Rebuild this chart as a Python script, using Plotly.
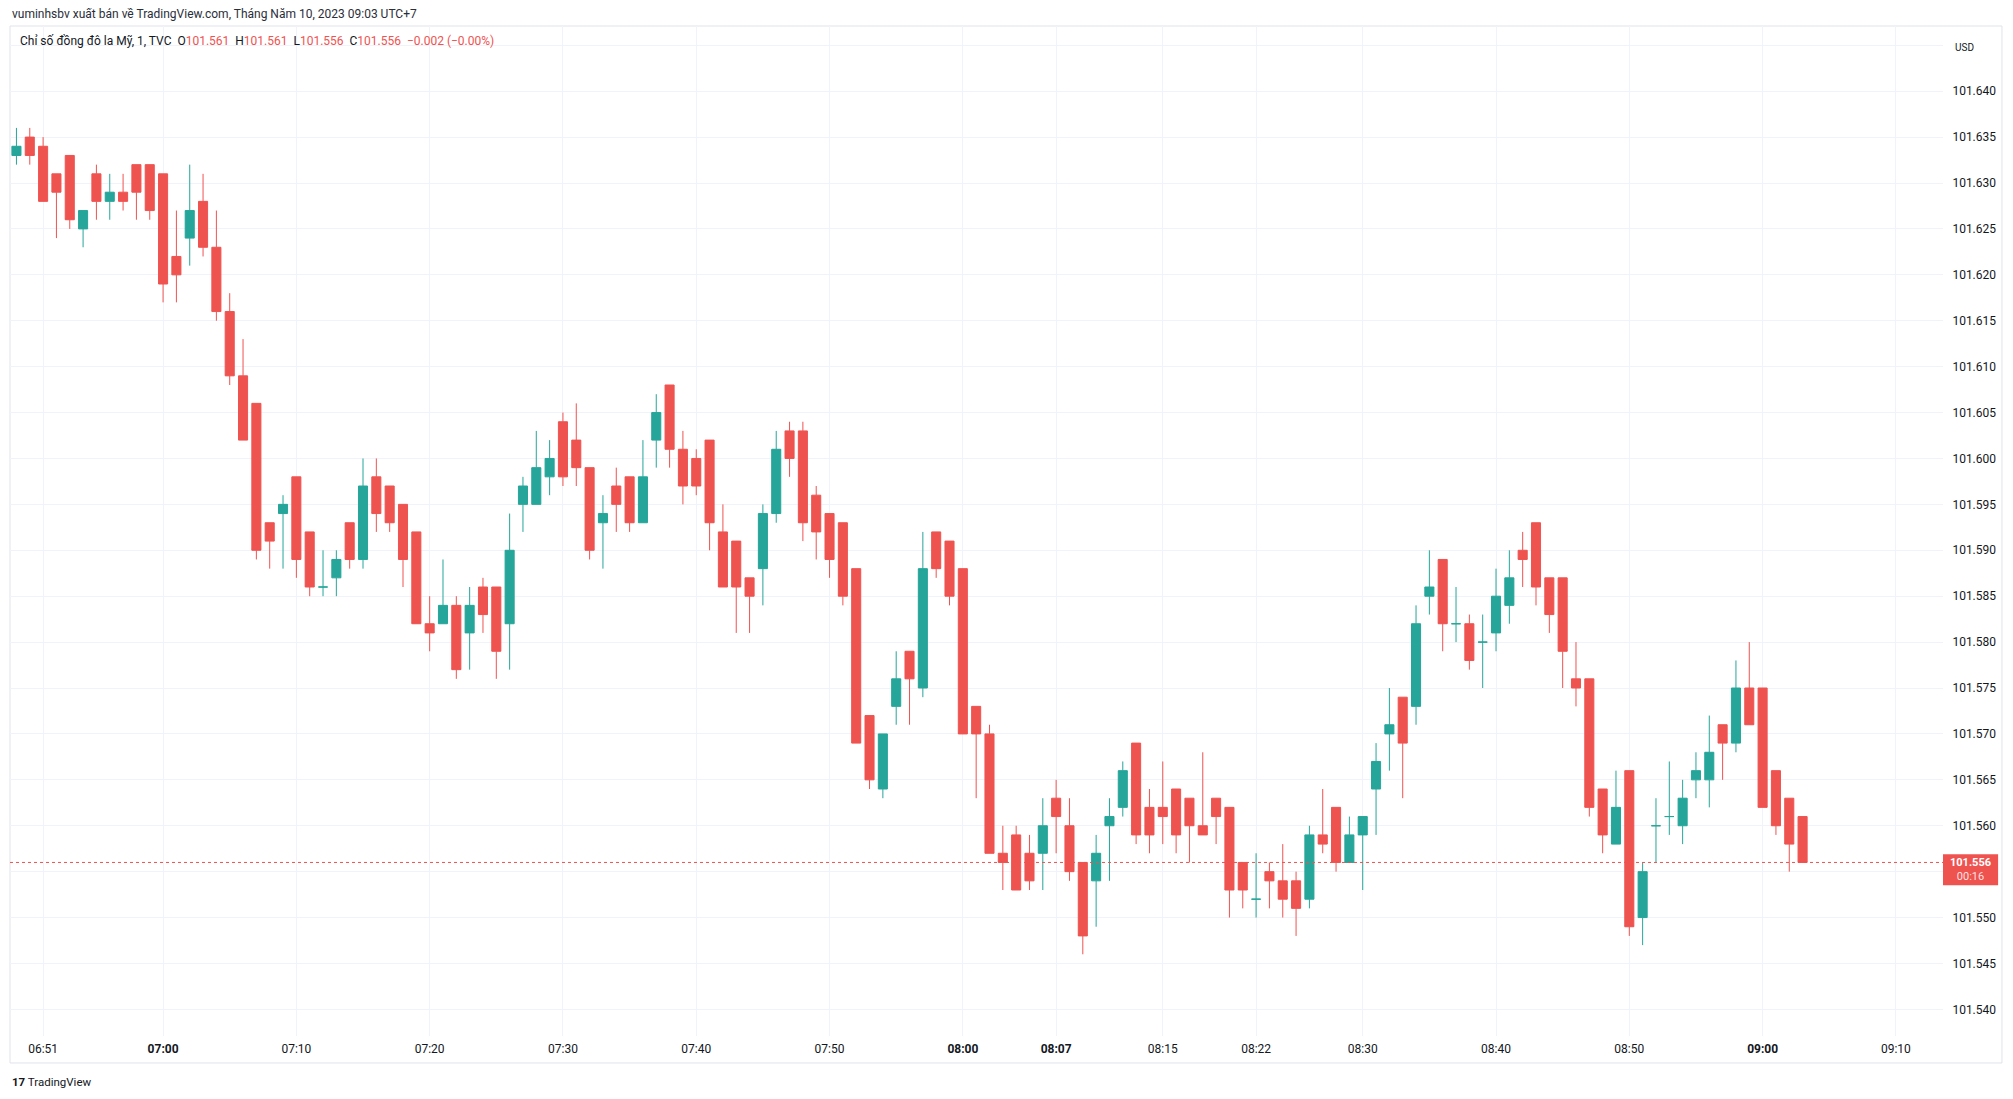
import pandas as pd
import plotly.graph_objects as go

# 1-minute bars, DXY (TVC), 10 May 2023, 06:49 -> 09:03 (UTC+7)
times = pd.date_range("2023-05-10 06:49", "2023-05-10 09:03", freq="1min")

opens = [
    101.633, 101.635, 101.634, 101.631, 101.633, 101.625, 101.631, 101.628, 101.629, 101.632,
    101.632, 101.631, 101.622, 101.624, 101.628, 101.623, 101.616, 101.609, 101.606, 101.593,
    101.594, 101.598, 101.592, 101.586, 101.587, 101.593, 101.589, 101.598, 101.597, 101.595,
    101.592, 101.582, 101.582, 101.584, 101.581, 101.586, 101.586, 101.582, 101.595, 101.595,
    101.598, 101.604, 101.602, 101.599, 101.593, 101.597, 101.598, 101.593, 101.602, 101.608,
    101.601, 101.600, 101.602, 101.592, 101.591, 101.587, 101.588, 101.594, 101.603, 101.603,
    101.596, 101.594, 101.593, 101.588, 101.572, 101.564, 101.573, 101.579, 101.575, 101.592,
    101.591, 101.588, 101.573, 101.570, 101.557, 101.559, 101.557, 101.557, 101.563, 101.560,
    101.556, 101.554, 101.560, 101.562, 101.569, 101.562, 101.562, 101.564, 101.563, 101.560,
    101.563, 101.562, 101.556, 101.552, 101.555, 101.554, 101.554, 101.552, 101.559, 101.562,
    101.556, 101.559, 101.564, 101.570, 101.574, 101.573, 101.585, 101.589, 101.582, 101.582,
    101.580, 101.581, 101.584, 101.590, 101.593, 101.587, 101.587, 101.576, 101.576, 101.564,
    101.558, 101.566, 101.550, 101.560, 101.561, 101.560, 101.565, 101.565, 101.571, 101.569,
    101.575, 101.575, 101.566, 101.563, 101.561,
]
highs = [
    101.636, 101.636, 101.635, 101.631, 101.633, 101.627, 101.632, 101.631, 101.631, 101.632,
    101.632, 101.631, 101.627, 101.632, 101.631, 101.627, 101.618, 101.613, 101.606, 101.593,
    101.596, 101.598, 101.592, 101.590, 101.590, 101.593, 101.600, 101.600, 101.597, 101.595,
    101.592, 101.585, 101.589, 101.585, 101.586, 101.587, 101.586, 101.594, 101.598, 101.603,
    101.602, 101.605, 101.606, 101.599, 101.596, 101.599, 101.598, 101.602, 101.607, 101.608,
    101.603, 101.601, 101.602, 101.595, 101.591, 101.587, 101.595, 101.603, 101.604, 101.604,
    101.597, 101.594, 101.593, 101.588, 101.572, 101.570, 101.579, 101.579, 101.592, 101.592,
    101.591, 101.588, 101.573, 101.571, 101.560, 101.560, 101.559, 101.563, 101.565, 101.563,
    101.556, 101.559, 101.563, 101.567, 101.569, 101.564, 101.567, 101.564, 101.563, 101.568,
    101.563, 101.562, 101.556, 101.557, 101.556, 101.558, 101.555, 101.560, 101.564, 101.562,
    101.561, 101.561, 101.569, 101.575, 101.574, 101.584, 101.590, 101.589, 101.586, 101.583,
    101.583, 101.588, 101.590, 101.592, 101.593, 101.587, 101.587, 101.580, 101.576, 101.564,
    101.566, 101.566, 101.556, 101.563, 101.567, 101.565, 101.568, 101.572, 101.571, 101.578,
    101.580, 101.575, 101.566, 101.563, 101.561,
]
lows = [
    101.632, 101.632, 101.628, 101.624, 101.625, 101.623, 101.626, 101.626, 101.627, 101.626,
    101.626, 101.617, 101.617, 101.621, 101.622, 101.615, 101.608, 101.602, 101.589, 101.588,
    101.588, 101.587, 101.585, 101.585, 101.585, 101.588, 101.588, 101.592, 101.592, 101.586,
    101.582, 101.579, 101.582, 101.576, 101.577, 101.581, 101.576, 101.577, 101.592, 101.595,
    101.596, 101.597, 101.597, 101.589, 101.588, 101.592, 101.592, 101.593, 101.599, 101.599,
    101.595, 101.596, 101.590, 101.586, 101.581, 101.581, 101.584, 101.593, 101.598, 101.591,
    101.589, 101.587, 101.584, 101.569, 101.564, 101.563, 101.571, 101.571, 101.574, 101.587,
    101.584, 101.570, 101.563, 101.557, 101.553, 101.553, 101.553, 101.553, 101.557, 101.554,
    101.546, 101.549, 101.554, 101.561, 101.558, 101.557, 101.558, 101.557, 101.556, 101.559,
    101.558, 101.550, 101.551, 101.550, 101.551, 101.550, 101.548, 101.551, 101.557, 101.555,
    101.556, 101.553, 101.559, 101.566, 101.563, 101.571, 101.583, 101.579, 101.580, 101.577,
    101.575, 101.579, 101.582, 101.586, 101.584, 101.581, 101.575, 101.573, 101.561, 101.557,
    101.558, 101.548, 101.547, 101.556, 101.559, 101.558, 101.563, 101.562, 101.565, 101.568,
    101.571, 101.562, 101.559, 101.555, 101.556,
]
closes = [
    101.634, 101.633, 101.628, 101.629, 101.626, 101.627, 101.628, 101.629, 101.628, 101.629,
    101.627, 101.619, 101.620, 101.627, 101.623, 101.616, 101.609, 101.602, 101.590, 101.591,
    101.595, 101.589, 101.586, 101.586, 101.589, 101.589, 101.597, 101.594, 101.593, 101.589,
    101.582, 101.581, 101.584, 101.577, 101.584, 101.583, 101.579, 101.590, 101.597, 101.599,
    101.600, 101.598, 101.599, 101.590, 101.594, 101.595, 101.593, 101.598, 101.605, 101.601,
    101.597, 101.597, 101.593, 101.586, 101.586, 101.585, 101.594, 101.601, 101.600, 101.593,
    101.592, 101.589, 101.585, 101.569, 101.565, 101.570, 101.576, 101.576, 101.588, 101.588,
    101.585, 101.570, 101.570, 101.557, 101.556, 101.553, 101.554, 101.560, 101.561, 101.555,
    101.548, 101.557, 101.561, 101.566, 101.559, 101.559, 101.561, 101.559, 101.560, 101.559,
    101.561, 101.553, 101.553, 101.552, 101.554, 101.552, 101.551, 101.559, 101.558, 101.556,
    101.559, 101.561, 101.567, 101.571, 101.569, 101.582, 101.586, 101.582, 101.582, 101.578,
    101.580, 101.585, 101.587, 101.589, 101.586, 101.583, 101.579, 101.575, 101.562, 101.559,
    101.562, 101.549, 101.555, 101.560, 101.561, 101.563, 101.566, 101.568, 101.569, 101.575,
    101.571, 101.562, 101.560, 101.558, 101.556,
]

tick_times = ["06:51", "07:00", "07:10", "07:20", "07:30", "07:40", "07:50", "08:00",
              "08:07", "08:15", "08:22", "08:30", "08:40", "08:50", "09:00", "09:10"]
bold_ticks = {"07:00", "08:00", "08:07", "09:00"}
price_ticks = [101.540, 101.545, 101.550, 101.555, 101.560, 101.565, 101.570, 101.575,
               101.580, 101.585, 101.590, 101.595, 101.600, 101.605, 101.610, 101.615,
               101.620, 101.625, 101.630, 101.635, 101.640, 101.645]
hidden_price_ticks = {101.555, 101.645}  # covered by the price badge / above the scale

UP = "#26a69a"
DOWN = "#ef5350"
TEXT = "#131722"
GRID = "#f0f3fa"
FONT = "Roboto, sans-serif"

df = pd.DataFrame({"t": times, "o": opens, "h": highs, "l": lows, "c": closes})
rising = df[df.c >= df.o]
falling = df[df.c < df.o]

fig = go.Figure()
for part, color in ((rising, UP), (falling, DOWN)):
    fig.add_trace(
        go.Candlestick(
            x=part.t, open=part.o, high=part.h, low=part.l, close=part.c,
            increasing=dict(line=dict(color=color, width=1), fillcolor=color),
            decreasing=dict(line=dict(color=color, width=1), fillcolor=color),
            whiskerwidth=0, hoverinfo="skip", showlegend=False,
        )
    )

last_close = closes[-1]
tick_vals = [pd.Timestamp(f"2023-05-10 {t}") for t in tick_times]
tick_text = [f"<b>{t}</b>" if t in bold_ticks else t for t in tick_times]
price_text = ["" if v in hidden_price_ticks else f"{v:.3f}" for v in price_ticks]

# the page body adds an 8px margin, so the figure is 8px smaller on each axis
fig.update_layout(
    width=2005, height=1091, autosize=False,
    margin=dict(l=2, r=70, t=18, b=63),
    paper_bgcolor="white", plot_bgcolor="white",
    font=dict(family=FONT, color=TEXT, size=12),
    boxgap=0.32, boxgroupgap=0,
    showlegend=False,
    xaxis=dict(
        type="date",
        range=["2023-05-10 06:48:31", "2023-05-10 09:13:32"],
        rangeslider=dict(visible=False),
        tickvals=tick_vals, ticktext=tick_text,
        showgrid=True, gridcolor=GRID, gridwidth=1,
        ticks="outside", ticklen=2, tickcolor="rgba(0,0,0,0)",
        showline=False, zeroline=False,
        tickfont=dict(size=12, color=TEXT),
    ),
    yaxis=dict(
        side="right",
        range=[101.5371, 101.6471],
        tickvals=price_ticks, ticktext=price_text,
        showgrid=True, gridcolor=GRID, gridwidth=1,
        ticks="outside", ticklen=6, tickcolor="rgba(0,0,0,0)",
        showline=False, zeroline=False,
        tickfont=dict(size=12, color=TEXT),
    ),
)

# chart frame
fig.add_shape(type="rect", xref="paper", yref="paper", x0=0, x1=1.0305, y0=-0.0267, y1=1,
              line=dict(color="#e0e3eb", width=1), layer="below")

# last price line + label
fig.add_shape(type="line", xref="paper", yref="y", x0=0, x1=1, y0=last_close, y1=last_close,
              line=dict(color=DOWN, width=1, dash="dot"))
fig.add_shape(type="rect", xref="paper", yref="y", x0=1.0, x1=1.0285,
              y0=last_close - 0.00248, y1=last_close + 0.00089,
              line=dict(width=0), fillcolor=DOWN)
fig.add_annotation(xref="paper", yref="y", x=1.0143, y=last_close - 0.0008,
                   text=f"<b>{last_close:.3f}</b><br><span style='color:rgba(255,255,255,0.85)'>00:16</span>",
                   showarrow=False, font=dict(size=11, color="white"), xanchor="center",
                   yanchor="middle", borderpad=0)

fig.add_annotation(xref="paper", yref="paper", x=1.0052, y=0.986, text="USD",
                   showarrow=False, xanchor="left", font=dict(size=10, color=TEXT))

# header and legend
fig.add_annotation(xref="paper", yref="paper", x=0, y=1.0119, xanchor="left", yanchor="middle",
                   text="vuminhsbv xuất bản về TradingView.com, Tháng Năm 10, 2023 09:03 UTC+7",
                   showarrow=False, font=dict(size=12, color="#2a2e39"))


def red(s):
    return f"<span style='color:{DOWN}'>{s}</span>"


legend = ("Chỉ số đồng đô la Mỹ, 1, TVC  O" + red(f"{opens[-1]:.3f}")
          + "  H" + red(f"{highs[-1]:.3f}")
          + "  L" + red(f"{lows[-1]:.3f}")
          + "  C" + red(f"{closes[-1]:.3f}")
          + "  " + red("−0.002 (−0.00%)"))
fig.add_annotation(xref="paper", yref="paper", x=0.0041, y=0.9851, xanchor="left", yanchor="middle",
                   text=legend, showarrow=False, font=dict(size=12, color=TEXT))

fig.add_annotation(xref="paper", yref="paper", x=0, y=-0.0455, xanchor="left", yanchor="middle",
                   text="<b>17</b> TradingView", showarrow=False, font=dict(size=11.5, color=TEXT))

fig.write_html("out.html")
